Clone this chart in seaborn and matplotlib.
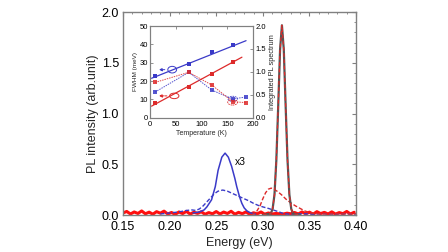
import numpy as np
import matplotlib
matplotlib.use("Agg")
import matplotlib.pyplot as plt
import seaborn as sns
from matplotlib.patches import Ellipse
from matplotlib.ticker import MultipleLocator, FormatStrFormatter

sns.set_theme(style="white")
plt.rcParams['font.family'] = ['Liberation Sans', 'DejaVu Sans']

# ---------------- main spectra ----------------
E_noise = [0.150, 0.154, 0.158, 0.162, 0.166, 0.170, 0.174, 0.178, 0.182, 0.186,
           0.190, 0.194, 0.198, 0.202, 0.206, 0.210, 0.214, 0.218, 0.222, 0.226,
           0.230, 0.234, 0.238, 0.242, 0.246, 0.250, 0.254, 0.258, 0.262, 0.266,
           0.270, 0.274, 0.278, 0.282, 0.286, 0.290, 0.294, 0.298, 0.302, 0.306,
           0.310, 0.314, 0.318, 0.322, 0.326, 0.330, 0.334, 0.338, 0.342, 0.346,
           0.350, 0.354, 0.358, 0.362, 0.366, 0.370, 0.374, 0.378, 0.382, 0.386,
           0.390, 0.394, 0.398]
I_red_noise = [0.020, 0.035, 0.010, 0.030, 0.015, 0.040, 0.012, 0.028, 0.008, 0.033,
               0.018, 0.038, 0.010, 0.025, 0.006, 0.030, 0.014, 0.036, 0.009, 0.027,
               0.016, 0.032, 0.007, 0.024, 0.012, 0.034, 0.010, 0.029, 0.015, 0.037,
               0.008, 0.026, 0.013, 0.031, 0.006, 0.022, 0.011, 0.030, 0.008, 0.020,
               0.010, 0.015, 0.012, 0.010, 0.018, 0.012, 0.025, 0.010, 0.030, 0.012,
               0.028, 0.008, 0.033, 0.014, 0.026, 0.010, 0.031, 0.009, 0.024, 0.013,
               0.035, 0.010, 0.027]

E_peak = [0.300, 0.3085, 0.3105, 0.3125, 0.3145, 0.3165, 0.3185, 0.3205,
          0.3225, 0.3245, 0.3265, 0.3285, 0.3305, 0.3325, 0.340]
I_peak = [0.0, 0.013, 0.06, 0.20, 0.54, 1.07, 1.63, 1.87,
          1.63, 1.07, 0.54, 0.20, 0.06, 0.013, 0.0]

E_red_broad = [0.288, 0.293, 0.297, 0.300, 0.303, 0.306, 0.309, 0.312, 0.316, 0.320,
               0.325, 0.330, 0.335, 0.340, 0.345, 0.350, 0.355, 0.360, 0.370, 0.380,
               0.390, 0.400]
I_red_broad = [0.0, 0.03, 0.09, 0.16, 0.22, 0.255, 0.265, 0.255, 0.23, 0.20,
               0.155, 0.12, 0.09, 0.065, 0.04, 0.025, 0.016, 0.012, 0.010, 0.012,
               0.010, 0.012]

E_blue_x3 = [0.225, 0.232, 0.237, 0.240, 0.245, 0.249, 0.252, 0.256, 0.2595, 0.263,
             0.2665, 0.270, 0.272, 0.275, 0.2775, 0.280, 0.283, 0.287, 0.292]
I_blue_x3 = [0.02, 0.03, 0.05, 0.08, 0.15, 0.28, 0.44, 0.57, 0.61, 0.57,
             0.48, 0.36, 0.28, 0.18, 0.115, 0.07, 0.04, 0.02, 0.01]

E_blue_broad = [0.190, 0.200, 0.210, 0.218, 0.224, 0.228, 0.232, 0.236, 0.240, 0.244,
                0.248, 0.252, 0.257, 0.262, 0.268, 0.274, 0.280, 0.285, 0.290, 0.295,
                0.300, 0.306, 0.311, 0.316, 0.322, 0.328, 0.335, 0.345, 0.355, 0.365,
                0.375, 0.385, 0.395, 0.400]
I_blue_broad = [0.01, 0.02, 0.03, 0.045, 0.05, 0.045, 0.06, 0.09, 0.13, 0.17,
                0.21, 0.235, 0.246, 0.235, 0.21, 0.185, 0.16, 0.14, 0.115, 0.095,
                0.08, 0.065, 0.05, 0.035, 0.015, 0.008, 0.010, 0.012, 0.008, 0.012,
                0.009, 0.012, 0.010, 0.010]

# ---------------- inset data ----------------
T_pts = [10, 75, 120, 160]
fwhm_blue = [22.5, 29.2, 35.7, 39.6]
fwhm_red = [7.8, 16.8, 23.8, 30.5]
T_fit_blue = [3, 186]
fit_blue = [21.5, 42.0]
T_fit_red = [3, 178]
fit_red = [6.3, 33.0]
T_int = [10, 75, 120, 160, 185]
int_blue = [0.56, 0.99, 0.60, 0.41, 0.45]
int_red = [0.77, 0.99, 0.71, 0.35, 0.33]

BLUE = "#3a3ac8"
RED = "#dd2a2a"
RED_NOISE = "#ff1010"
GRAY = "#555555"
SPINE = "#808080"

fig = plt.figure(figsize=(4.48, 2.52), dpi=100)
ax = fig.add_axes([0.2746, 0.1468, 0.5201, 0.8052])

sns.lineplot(x=E_noise, y=I_red_noise, ax=ax, color=RED_NOISE, linewidth=2.2, sort=False)
sns.lineplot(x=E_blue_broad, y=I_blue_broad, ax=ax, color=BLUE, linewidth=1.0,
             linestyle=(0, (3, 1.5)), sort=False)
sns.lineplot(x=E_blue_x3, y=I_blue_x3, ax=ax, color=BLUE, linewidth=1.1, sort=False)
sns.lineplot(x=E_red_broad, y=I_red_broad, ax=ax, color=RED, linewidth=1.0,
             linestyle=(0, (3, 1.5)), sort=False)
sns.lineplot(x=E_peak, y=I_peak, ax=ax, color=GRAY, linewidth=1.6, sort=False)
sns.lineplot(x=E_peak, y=I_peak, ax=ax, color=RED, linewidth=0.9,
             linestyle=(0, (3, 2)), sort=False)

ax.text(0.2705, 0.52, "x3", fontsize=7.5, ha="left", va="center", color="black")

ax.set_xlim(0.15, 0.40)
ax.set_ylim(0.0, 2.0)
ax.xaxis.set_major_locator(MultipleLocator(0.05))
ax.xaxis.set_minor_locator(MultipleLocator(0.01))
ax.yaxis.set_major_locator(MultipleLocator(0.5))
ax.yaxis.set_minor_locator(MultipleLocator(0.1))
ax.xaxis.set_major_formatter(FormatStrFormatter("%.2f"))
ax.yaxis.set_major_formatter(FormatStrFormatter("%.1f"))
ax.tick_params(which="both", direction="in", top=True, right=True, color=SPINE,
               labelsize=9, labelcolor="black", pad=3)
ax.tick_params(axis="x", which="major", pad=4.5)
ax.tick_params(which="major", length=3, width=0.8)
ax.tick_params(which="minor", length=1.6, width=0.6)
for s in ax.spines.values():
    s.set_color(SPINE)
    s.set_linewidth(1.0)
ax.set_xlabel("Energy (eV)", fontsize=9, labelpad=2.5)
ax.set_ylabel("PL intensity (arb.unit)", fontsize=9, labelpad=2)

# ---------------- inset ----------------
ax_in = fig.add_axes([0.3348, 0.5329, 0.2306, 0.3639])
ax_in2 = ax_in.twinx()

sns.lineplot(x=T_fit_blue, y=fit_blue, ax=ax_in, color=BLUE, linewidth=0.9, sort=False)
sns.lineplot(x=T_fit_red, y=fit_red, ax=ax_in, color=RED, linewidth=0.9, sort=False)
sns.lineplot(x=T_pts, y=fwhm_blue, ax=ax_in, color=BLUE, linewidth=0, marker="s",
             markersize=2.3, markeredgewidth=0, sort=False)
sns.lineplot(x=T_pts, y=fwhm_red, ax=ax_in, color=RED, linewidth=0, marker="s",
             markersize=2.3, markeredgewidth=0, sort=False)

sns.lineplot(x=T_int, y=int_blue, ax=ax_in2, color=BLUE, linewidth=0.7,
             linestyle=(0, (1.5, 1)), marker="s", markersize=2.3, markeredgewidth=0,
             alpha=0.85, sort=False)
sns.lineplot(x=T_int, y=int_red, ax=ax_in2, color=RED, linewidth=0.7,
             linestyle=(0, (1.5, 1)), marker="s", markersize=2.3, markeredgewidth=0,
             alpha=0.85, sort=False)

# circles and arrows indicating axes
ax_in.add_patch(Ellipse((43, 26.2), 17, 3.6, fill=False, edgecolor=BLUE, lw=0.7))
ax_in.add_patch(Ellipse((47, 11.9), 18, 3.0, fill=False, edgecolor=RED, lw=0.7))
ax_in.add_patch(Ellipse((160, 10.3), 18, 2.8, fill=False, edgecolor=BLUE, lw=0.6,
                        linestyle=(0, (2, 1))))
ax_in.add_patch(Ellipse((160, 8.4), 19, 3.0, fill=False, edgecolor=RED, lw=0.6,
                        linestyle=(0, (2, 1))))
ax_in.annotate("", xy=(12, 26.2), xytext=(34, 26.2),
               arrowprops=dict(arrowstyle="-|>", color=BLUE, lw=0.7, mutation_scale=4,
                               linestyle=(0, (2, 1))))
ax_in.annotate("", xy=(12, 11.9), xytext=(38, 11.9),
               arrowprops=dict(arrowstyle="-|>", color=RED, lw=0.7, mutation_scale=4,
                               linestyle=(0, (2, 1))))

ax_in.set_xlim(0, 200)
ax_in.set_ylim(0, 50)
ax_in2.set_ylim(0, 2.0)
ax_in.xaxis.set_major_locator(MultipleLocator(50))
ax_in.yaxis.set_major_locator(MultipleLocator(10))
ax_in2.yaxis.set_major_locator(MultipleLocator(0.5))
ax_in2.yaxis.set_major_formatter(FormatStrFormatter("%.1f"))
for a in (ax_in, ax_in2):
    a.tick_params(which="both", direction="in", length=2, width=0.6, color=SPINE,
                  labelsize=5.5, pad=1.5, labelcolor="black")
    for s in a.spines.values():
        s.set_color(SPINE)
        s.set_linewidth(0.8)
ax_in.tick_params(top=True)
ax_in.tick_params(axis="x", pad=2.5)
ax_in.set_xlabel("Temperature (K)", fontsize=5, labelpad=1.5)
ax_in.set_ylabel("FWHM (meV)", fontsize=4.6, labelpad=1)
ax_in2.set_ylabel("Integrated PL spectrum", fontsize=5.3, labelpad=2, rotation=90)

fig.savefig("out.png", dpi=100)
